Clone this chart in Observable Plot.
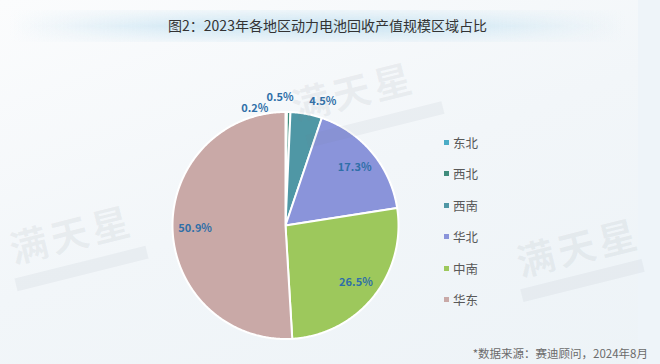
<!DOCTYPE html>
<html>
<head>
<meta charset="utf-8">
<script src="https://cdn.jsdelivr.net/npm/d3@7"></script>
<script src="https://cdn.jsdelivr.net/npm/@observablehq/plot@0.6"></script>
<style>
  html, body { margin: 0; padding: 0; }
  body { width: 660px; height: 364px; overflow: hidden; font-family: "Noto Sans CJK SC", "Noto Sans", sans-serif;
         background: linear-gradient(160deg, #fbfcfd 0%, #f2f6f9 50%, #edf3f7 100%); }
  #wrap { position: relative; width: 660px; height: 364px; }
  #band { position: absolute; left: 10px; top: 10px; width: 615px; height: 32px;
          background: linear-gradient(to right, rgba(205,230,243,0) 0%, rgba(205,230,243,0.9) 30%, #c9e4f2 50%, rgba(205,230,243,0.9) 70%, rgba(205,230,243,0) 100%);
          -webkit-mask-image: linear-gradient(to bottom, rgba(0,0,0,0.2), #000 50%, rgba(0,0,0,0.2)); }
  #title { position: absolute; left: 0; top: 14px; width: 655px; text-align: center; font-size: 14px; color: #333; line-height: 22px; }
  #strip { position: absolute; left: 638px; top: 0; width: 22px; height: 364px; background: #eef4f9; }
  #chart { position: absolute; left: 0; top: 0; }
  #legend { position: absolute; left: 444px; top: 133px; display: flex; flex-direction: column; gap: 13.6px; }
  .item { display: flex; align-items: center; font-size: 12.5px; color: #595959; height: 18px; }
  .sw { width: 5px; height: 5px; margin-right: 4px; }
  #caption { position: absolute; right: 12px; top: 345px; font-size: 11.5px; color: #6b6b6b; }
  .wm { position: absolute; font-size: 38px; font-weight: 700; color: rgba(120,130,140,0.09); transform: rotate(-14deg); letter-spacing: 4px; white-space: nowrap; pointer-events: none; }
  .wmbar { position: absolute; height: 13px; background: rgba(120,130,140,0.07); transform: rotate(-14deg); pointer-events: none; }
</style>
</head>
<body>
<div id="wrap">
  <div id="strip"></div>
  <div id="band"></div>
  <div id="title">图2：2023年各地区动力电池回收产值规模区域占比</div>
  <div id="chart"></div>
  <div id="legend"></div>
  <div id="caption">*数据来源：赛迪顾问，2024年8月</div>
  <div class="wm" style="left:290px;top:62px;">满天星</div>
  <div class="wmbar" style="left:305px;top:118px;width:140px;"></div>
  <div class="wm" style="left:8px;top:205px;">满天星</div>
  <div class="wmbar" style="left:14px;top:262px;width:135px;"></div>
  <div class="wm" style="left:515px;top:218px;">满天星</div>
  <div class="wmbar" style="left:520px;top:274px;width:125px;"></div>
</div>
<script>
const regions = ["东北", "西北", "西南", "华北", "中南", "华东"];
const shares = [0.2, 0.5, 4.5, 17.3, 26.5, 50.9];
const labels = ["0.2%", "0.5%", "4.5%", "17.3%", "26.5%", "50.9%"];
const colors = ["#4bacc6", "#3f8c7c", "#4f97a5", "#8a94da", "#9dc85c", "#c9a9a7"];

const total = d3.sum(shares);
const slices = [];
let acc = 0;
regions.forEach((r, i) => {
  const a0 = acc / total * 2 * Math.PI;
  acc += shares[i];
  const a1 = acc / total * 2 * Math.PI;
  slices.push({region: r, share: shares[i], label: labels[i], a0, a1, mid: (a0 + a1) / 2, i});
});

// polygon points for each slice (angle measured clockwise from 12 o'clock)
const pts = [];
for (const s of slices) {
  pts.push({region: s.region, x: 0, y: 0});
  const n = Math.max(2, Math.ceil((s.a1 - s.a0) / (Math.PI / 360)));
  for (let k = 0; k <= n; k++) {
    const a = s.a0 + (s.a1 - s.a0) * k / n;
    pts.push({region: s.region, x: Math.sin(a), y: Math.cos(a)});
  }
  pts.push({region: s.region, x: 0, y: 0});
}

const inside = slices.filter(s => s.share >= 10).map(s => ({...s, x: 0.8 * Math.sin(s.mid), y: 0.8 * Math.cos(s.mid)}));
const outside = slices.filter(s => s.share < 10).map(s => ({...s, x: 1.12 * Math.sin(s.mid), y: 1.12 * Math.cos(s.mid)}));

const labelStyle = {fill: "#2f6fa8", fontSize: 11, fontWeight: 600, fontFamily: "Noto Sans CJK SC, Noto Sans, sans-serif"};

const chart = Plot.plot({
  width: 660,
  height: 364,
  margin: 0,
  style: {background: "transparent", overflow: "visible"},
  x: {domain: [-1, 1], range: [172, 398], axis: null},
  y: {domain: [-1, 1], range: [338.5, 111.5], axis: null},
  color: {domain: regions, range: colors},
  marks: [
    Plot.line(pts, {x: "x", y: "y", z: "region", fill: "region", stroke: "white", strokeWidth: 2, strokeLinejoin: "round", curve: "linear"}),
    Plot.text(inside, {x: "x", y: "y", text: "label", ...labelStyle}),
    Plot.text(outside.filter(d => d.i === 0), {x: "x", y: "y", text: "label", textAnchor: "end", dx: -18, dy: 10, ...labelStyle}),
    Plot.text(outside.filter(d => d.i === 1), {x: "x", y: "y", text: "label", dx: -9, dy: -1, ...labelStyle}),
    Plot.text(outside.filter(d => d.i === 2), {x: "x", y: "y", text: "label", dx: 14, dy: 1, ...labelStyle})
  ]
});
document.getElementById("chart").appendChild(chart);

const legend = document.getElementById("legend");
regions.forEach((r, i) => {
  const item = document.createElement("div");
  item.className = "item";
  const sw = document.createElement("span");
  sw.className = "sw";
  sw.style.background = colors[i];
  item.appendChild(sw);
  item.appendChild(document.createTextNode(r));
  legend.appendChild(item);
});
</script>
</body>
</html>
